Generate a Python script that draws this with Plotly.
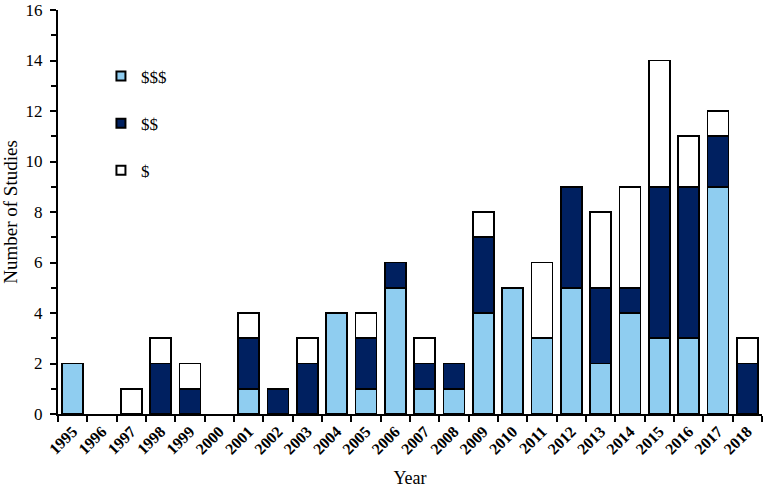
import plotly.graph_objects as go

years = [str(y) for y in range(1995, 2019)]
high = [2, 0, 0, 0, 0, 0, 1, 0, 0, 4, 1, 5, 1, 1, 4, 5, 3, 5, 2, 4, 3, 3, 9, 0]
mid = [0, 0, 0, 2, 1, 0, 2, 1, 2, 0, 2, 1, 1, 1, 3, 0, 0, 4, 3, 1, 6, 6, 2, 2]
low = [0, 0, 1, 1, 1, 0, 1, 0, 1, 0, 1, 0, 1, 0, 1, 0, 3, 0, 3, 4, 5, 2, 1, 1]

series = [("$$$", high, "#8FCDF0"), ("$$", mid, "#002060"), ("$", low, "#FFFFFF")]

fig = go.Figure()
for name, vals, col in series:
    fig.add_trace(go.Bar(
        x=years, y=[v if v else None for v in vals], name=name,
        legendgroup=name, showlegend=False,
        marker=dict(color=col, line=dict(color="black", width=1.6)),
    ))
# legend proxies (small square swatches like the reference)
for name, vals, col in series:
    fig.add_trace(go.Scatter(
        x=[None], y=[None], mode="markers", name=name, legendgroup=name,
        marker=dict(symbol="square", size=9, color=col,
                    line=dict(color="black", width=2)),
    ))

serif = "Liberation Serif"
fig.update_layout(
    width=765, height=488,
    margin=dict(l=58, r=3, t=10, b=74),
    barmode="stack", bargap=0.28,
    plot_bgcolor="white", paper_bgcolor="white",
    font=dict(family=serif, size=18, color="black"),
    showlegend=True,
    legend=dict(x=0.061, y=0.88, xanchor="left", yanchor="top",
                traceorder="grouped", tracegroupgap=22,
                font=dict(family=serif, size=17, color="black"),
                bgcolor="rgba(0,0,0,0)", itemwidth=30),
    xaxis=dict(type="category", tickson="boundaries", ticks="outside",
               ticklen=6, tickwidth=1.5, tickcolor="black",
               showline=True, linecolor="black", linewidth=2,
               tickangle=-45, range=[-0.5, 23.5], automargin=False,
               tickfont=dict(family=serif, size=16, color="black", weight="bold"),
               title=dict(text="Year", font=dict(family=serif, size=18), standoff=15)),
    yaxis=dict(range=[0, 16], dtick=2, ticks="outside", ticklen=6,
               tickwidth=1.5, tickcolor="black", automargin=False,
               ticklabelstandoff=4, ticklabeloverflow="allow",
               minor=dict(dtick=1, ticks="outside", ticklen=5, tickwidth=1.5, tickcolor="black"),
               showline=True, linecolor="black", linewidth=2,
               showgrid=False, zeroline=False,
               tickfont=dict(family=serif, size=17, color="black"),
               title=dict(text="Number of Studies", font=dict(family=serif, size=19), standoff=7)),
)
fig.write_html("out.html", config={"displayModeBar": False},
               post_script="document.body.style.margin='0';document.body.style.overflow='hidden';")
